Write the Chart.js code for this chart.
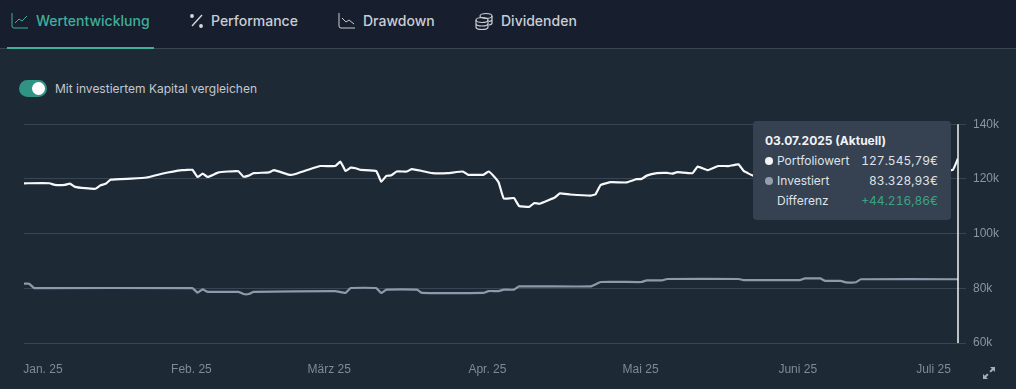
<!DOCTYPE html>
<html lang="de">
<head>
<meta charset="utf-8">
<title>Wertentwicklung</title>
<script src="https://cdn.jsdelivr.net/npm/chart.js@4/dist/chart.umd.min.js"></script>
<style>
  html, body { margin: 0; padding: 0; }
  body {
    width: 1016px; height: 389px; position: relative; overflow: hidden;
    background: #1e2936; font-family: Inter, sans-serif; color: #d5d9de;
  }
  .tabs { position: absolute; left: 0; top: 0; width: 1016px; height: 48px; background: #171e2e; border-bottom: 1px solid #3a4553; }
  .tab { position: absolute; top: 11px; height: 20px; line-height: 20px; font-size: 14px; font-weight: 500; color: #c9ced4; white-space: nowrap; }
  .tab.active { color: #3fae9a; }
  .tab-icon { position: absolute; top: 12px; }
  .underline { position: absolute; left: 7px; top: 47px; width: 147px; height: 2px; background: #3fae9a; }
  .toggle { position: absolute; left: 19px; top: 80px; width: 28px; height: 17px; border-radius: 9px; background: #2f9484; }
  .toggle i { position: absolute; left: 13px; top: 2px; width: 13px; height: 13px; border-radius: 50%; background: #fff; }
  .toggle-label { position: absolute; left: 55px; top: 80px; line-height: 17px; font-size: 12px; color: #c3c8ce; }
  #chartWrap { position: absolute; left: 0; top: 110px; width: 1016px; height: 279px; }
  .tip { position: absolute; left: 753px; top: 121px; width: 198px; height: 99px; border-radius: 4px; background: #364152; font-size: 12px; color: #dfe3e7; }
  .tip div { position: absolute; white-space: nowrap; line-height: 16px; }
  .tip .r { right: 13px; font-variant-numeric: tabular-nums; }
  .tip .dot { width: 8px; height: 8px; border-radius: 50%; left: 12px; }
  .expand { position: absolute; left: 982px; top: 366px; }
</style>
</head>
<body>
<div class="tabs">
  <svg class="tab-icon" style="left:11px" width="18" height="18" viewBox="0 0 18 18" fill="none" stroke="#3fae9a" stroke-width="1"><path d="M1 1v13q0 2 2 2h14M4 11l4-4 3 2 5-5"/></svg>
  <div class="tab active" style="left:36px">Wertentwicklung</div>
  <svg class="tab-icon" style="left:189px" width="16" height="18" viewBox="0 0 16 18" fill="none" stroke="#d5d9de" stroke-width="1.4"><path d="M13 3L3 14"/><circle cx="3" cy="4" r="1.2" fill="#d5d9de"/><circle cx="12" cy="14" r="1.2" fill="#d5d9de"/></svg>
  <div class="tab" style="left:211px">Performance</div>
  <svg class="tab-icon" style="left:338px" width="18" height="18" viewBox="0 0 18 18" fill="none" stroke="#c9ced4" stroke-width="1"><path d="M1 1v13q0 2 2 2h14M4 6l4 4 3-2 5 4"/></svg>
  <div class="tab" style="left:363px">Drawdown</div>
  <svg class="tab-icon" style="left:474px" width="20" height="18" viewBox="0 0 20 18" fill="none" stroke="#c9ced4" stroke-width="1.2"><ellipse cx="12" cy="4" rx="6" ry="2.5"/><path d="M18 4v7q0 1.5-3 2M18 7.5q0 1.5-3 2"/><ellipse cx="8" cy="8" rx="6" ry="2.5"/><path d="M2 8v7q0 2.5 6 2.5t6-2.5V8M2 11.5q0 2.5 6 2.5t6-2.5"/></svg>
  <div class="tab" style="left:501px">Dividenden</div>
  <div class="underline"></div>
</div>

<div class="toggle"><i></i></div>
<div class="toggle-label">Mit investiertem Kapital vergleichen</div>

<div id="chartWrap"><canvas id="chart" width="1016" height="279"></canvas></div>

<div class="tip">
  <div style="left:12px;top:12px;font-weight:700;color:#f1f3f5">03.07.2025 (Aktuell)</div>
  <div class="dot" style="top:36px;background:#f4f5f7"></div>
  <div style="left:24px;top:32px">Portfoliowert</div>
  <div class="r" style="top:32px">127.545,79€</div>
  <div class="dot" style="top:56px;background:#959ead"></div>
  <div style="left:24px;top:52px">Investiert</div>
  <div class="r" style="top:52px">83.328,93€</div>
  <div style="left:24px;top:72px">Differenz</div>
  <div class="r" style="top:72px;color:#3aa583">+44.216,86€</div>
</div>

<svg class="expand" width="14" height="14" viewBox="0 0 14 14" fill="#a7aeb6"><path d="M8 1h5v5l-1.8-1.8-2.4 2.4-1.4-1.4 2.4-2.4zM6 13H1V8l1.8 1.8 2.4-2.4 1.4 1.4-2.4 2.4z"/></svg>

<script>
// Days since 01.01.2025 and values in thousand euro
const portfolioDays = [0, 5, 6, 8, 9, 10, 12, 14, 15, 16, 17, 21, 24, 27, 31, 33, 34, 35, 36, 38, 40, 42, 43, 44, 45, 48, 49, 52, 53, 58, 61, 62, 63, 64, 65, 66, 69, 70, 71, 72, 73, 75, 76, 78, 80, 83, 86, 87, 90, 91, 92, 93, 94, 96, 97, 99, 100, 101, 104, 105, 107, 111, 112, 113, 115, 118, 120, 121, 122, 124, 126, 127, 128, 129, 131, 132, 134, 136, 138, 140, 141, 143, 150, 160, 170, 180, 182, 183];
const portfolioValues = [118.4, 118.4, 117.8, 117.8, 118.3, 117.1, 116.6, 116.4, 117.7, 118.2, 119.75, 120.1, 120.5, 121.9, 123.2, 123.3, 120.7, 121.9, 120.7, 122.3, 122.7, 122.8, 120.8, 121.2, 122.1, 122.4, 123.2, 121.5, 121.7, 124.7, 124.7, 126.3, 122.9, 124.1, 123.9, 123.3, 122.9, 119, 121.1, 121.3, 122.7, 122.7, 123.6, 122.9, 122.1, 122.1, 122.7, 121.5, 121.5, 122.7, 121.1, 118.7, 112.8, 113, 110.1, 109.8, 111.2, 110.9, 113.2, 114.7, 114.3, 113.9, 114.4, 117.8, 118.8, 118.7, 119.9, 120, 121.2, 122.1, 122.2, 121.9, 122.5, 122.3, 122.1, 124.5, 123.2, 124.7, 124.7, 125.3, 122.9, 121.1, 120.5, 121.5, 123, 123.2, 123.3, 127.5];
const investedDays = [0, 1, 2, 33, 34, 35, 36, 42, 43, 44, 45, 61, 63, 64, 69, 70, 71, 77, 78, 90, 91, 93, 94, 96, 97, 111, 113, 121, 122, 125, 126, 140, 141, 152, 153, 156, 157, 160, 161, 163, 164, 183];
const investedValues = [81.7, 81.7, 80.1, 80.1, 78.4, 79.6, 78.7, 78.7, 77.9, 77.9, 78.7, 79, 78.3, 80.1, 80.1, 78.3, 79.5, 79.5, 78.3, 78.3, 79, 79, 79.5, 79.5, 80.7, 80.7, 82.3, 82.3, 82.9, 82.9, 83.4, 83.4, 83, 83, 83.6, 83.6, 82.7, 82.7, 82.2, 82.2, 83.3, 83.3];

const monthLabels = ["Jan. 25", "Feb. 25", "März 25", "Apr. 25", "Mai 25", "Juni 25", "Juli 25"];
const monthTickDays = [3.7, 32.8, 59.8, 90.8, 120.8, 151.6, 178.2];
const valueTicks = [60, 80, 100, 120, 140];

function toPoints(days, values) {
  return days.map((day, i) => ({ x: day, y: values[i] }));
}

// White marker line at the active (last) day
const activeLine = {
  id: "activeLine",
  afterDatasetsDraw(chart) {
    const { ctx, chartArea, scales } = chart;
    const x = scales.x.getPixelForValue(portfolioDays[portfolioDays.length - 1]);
    ctx.save();
    ctx.strokeStyle = "#f2f4f6";
    ctx.lineWidth = 1.5;
    ctx.beginPath();
    ctx.moveTo(x, chartArea.top);
    ctx.lineTo(x, chartArea.bottom);
    ctx.stroke();
    ctx.restore();
  },
};

new Chart(document.getElementById("chart"), {
  type: "line",
  data: {
    datasets: [
      {
        label: "Investiert",
        data: toPoints(investedDays, investedValues),
        borderColor: "#8c9bab",
        borderWidth: 2.2,
        pointRadius: 0,
        tension: 0.1,
        borderJoinStyle: "round",
      },
      {
        label: "Portfoliowert",
        data: toPoints(portfolioDays, portfolioValues),
        borderColor: "#f7f8f9",
        borderWidth: 2.2,
        pointRadius: 0,
        tension: 0.1,
        borderJoinStyle: "round",
      },
    ],
  },
  options: {
    responsive: false,
    animation: false,
    layout: { padding: { left: 24, top: 13, right: 0, bottom: 0 } },
    plugins: { legend: { display: false }, tooltip: { enabled: false } },
    scales: {
      x: {
        type: "linear",
        min: 0,
        max: 183,
        grid: { display: false },
        border: { display: false },
        afterBuildTicks: (scale) => {
          scale.ticks = monthTickDays.map((day) => ({ value: day }));
        },
        afterFit: (scale) => {
          scale.height = 46;
        },
        ticks: {
          autoSkip: false,
          maxRotation: 0,
          padding: 11,
          color: "#7f8a96",
          font: { family: "Liberation Sans", size: 12 },
          callback: (value, index) => monthLabels[index],
        },
      },
      y: {
        position: "right",
        min: 60,
        max: 140,
        grid: { color: "#3a4553", lineWidth: 1, tickLength: 8 },
        border: { display: false },
        afterBuildTicks: (scale) => {
          scale.ticks = valueTicks.map((v) => ({ value: v }));
        },
        afterFit: (scale) => {
          scale.width = 58;
        },
        ticks: {
          padding: 7,
          color: "#8b95a1",
          font: { family: "Liberation Sans", size: 12 },
          callback: (value) => `${value}k`,
        },
      },
    },
  },
  plugins: [activeLine],
});
</script>
</body>
</html>
